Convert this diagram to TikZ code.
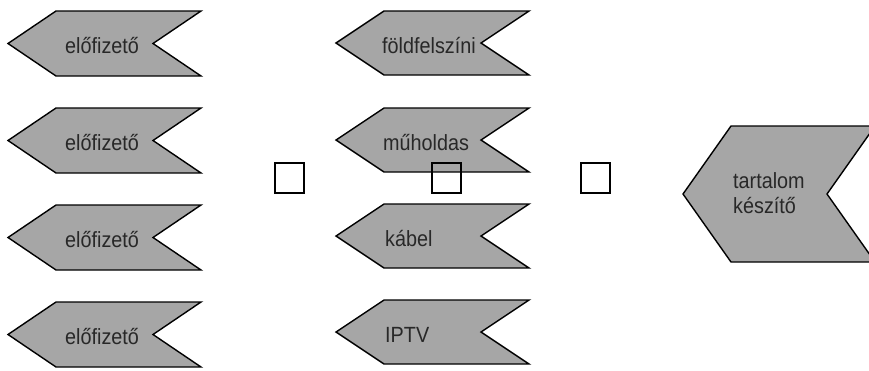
\documentclass[tikz,border=0pt]{standalone}
\usepackage{fontspec}
\setmainfont{Liberation Sans}[FakeStretch=0.9]
\definecolor{chevfill}{RGB}{166,166,166}
\definecolor{txt}{RGB}{40,40,40}
\tikzset{
  chev/.style={draw=black, fill=chevfill, line width=1.4bp, line join=miter},
  lbl/.style={anchor=base west, inner sep=0pt, text=txt, font=\fontsize{22bp}{25bp}\selectfont, align=left},
  sq/.style={draw=black, line width=1.4bp, minimum width=29bp, minimum height=30bp, inner sep=0pt}
}
% #1 left x, #2 right x, #3 centre y, #4 half height
\newcommand\chevfix[4]{%
  \draw[chev] (#1,#3) -- ({#1+48},{#3-#4}) -- (#2,{#3-#4}) -- ({#2-48},#3) -- (#2,{#3+#4}) -- ({#1+48},{#3+#4}) -- cycle;}
\begin{document}
\begin{tikzpicture}[x=1bp,y=-1bp]
\useasboundingbox (0,0) rectangle (869,370);
\clip (0,0) rectangle (869,370);
% left column
\chevfix{8}{201}{43.5}{32.5}
\chevfix{8}{201}{140.5}{32.5}
\chevfix{8}{201}{237.5}{32.5}
\chevfix{8}{201}{334.5}{32.5}
\node[lbl] (e1) at (65,53.5) {előfizető};
\node[lbl] (e2) at (65,150.5) {előfizető};
\node[lbl] (e3) at (65,247.5) {előfizető};
\node[lbl] (e4) at (65,344.5) {előfizető};
% middle column
\chevfix{336}{529}{43}{32}
\chevfix{336}{529}{140}{32}
\chevfix{336}{529}{236}{32}
\chevfix{336}{529}{332}{32}
\node[lbl] (m1) at (382,53) {földfelszíni};
\node[lbl] (m2) at (383,150) {műholdas};
\node[lbl] (m3) at (385,246) {kábel};
\node[lbl] (m4) at (385,342) {IPTV};
% big chevron
\chevfix{683}{875}{194}{68}
\node[lbl] (t1) at (733,188) {tartalom};
\node[lbl] (t2) at (733,213) {készítő};
% squares
\node[sq] (s1) at (289.5,178) {};
\node[sq] (s2) at (446.5,178) {};
\node[sq] (s3) at (595.5,178) {};
\end{tikzpicture}
\end{document}
